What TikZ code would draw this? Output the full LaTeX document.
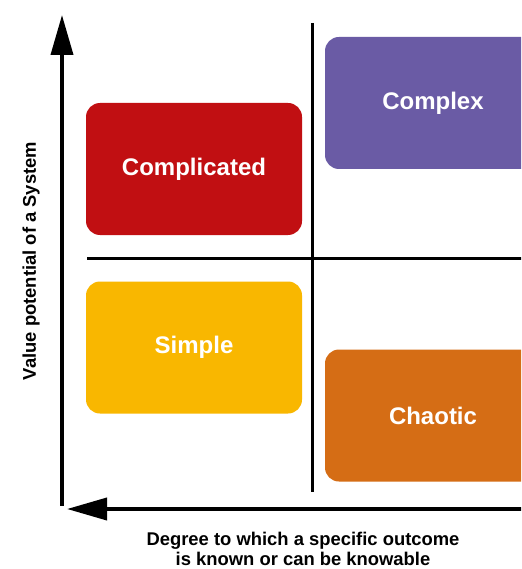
\documentclass[tikz,border=0pt]{standalone}
\usepackage{fontspec}
\setmainfont{Liberation Sans}
\usetikzlibrary{arrows.meta}

\definecolor{cRed}{HTML}{C10F12}
\definecolor{cPurple}{HTML}{6A5BA5}
\definecolor{cYellow}{HTML}{F9B700}
\definecolor{cOrange}{HTML}{D56D15}

\tikzset{
  quadbox/.style={rounded corners=14pt, minimum width=216pt, minimum height=132pt,
    inner sep=0pt, text=white, font=\fontsize{24}{28}\selectfont\bfseries},
  axis/.style={line width=3.8pt, -{Triangle[length=40pt,width=22pt]}},
  divider/.style={line width=2.5pt},
  axislabel/.style={font=\fontsize{18.4}{20}\selectfont\bfseries, align=center, inner sep=0pt}
}

\begin{document}
\begin{tikzpicture}[x=1pt,y=-1pt]
  \clip (0,0) rectangle (521,569);
  \fill[white] (0,0) rectangle (521,569);

  % quadrant boxes
  \node[quadbox, fill=cRed]    (complicated) at (194,169)   {Complicated};
  \node[quadbox, fill=cPurple] (complex)     at (433,103)   {Complex};
  \node[quadbox, fill=cYellow] (simple)      at (194,347.5) {Simple};
  \node[quadbox, fill=cOrange] (chaotic)     at (433,415.5) {Chaotic};

  % dividing lines
  \coordinate (vtop) at (312.5,23);
  \coordinate (vbot) at (312.5,492);
  \coordinate (hleft) at (87,258.5);
  \coordinate (hright) at (525,258.5);
  \draw[divider] (vtop) -- (vbot);
  \draw[divider] (hleft) -- (hright);

  % axes
  \coordinate (yfrom) at (62,505.5);
  \coordinate (yto) at (62,15);
  \coordinate (xfrom) at (525,509);
  \coordinate (xto) at (67,509);
  \draw[axis] (yfrom) -- (yto);
  \draw[axis] (xfrom) -- (xto);

  % axis labels
  \node[axislabel, rotate=90] (ylabel) at (31,261) {Value potential of a System};
  \node[axislabel] (xlabel) at (303,549) {Degree to which a specific outcome\\is known or can be knowable};
\end{tikzpicture}
\end{document}
